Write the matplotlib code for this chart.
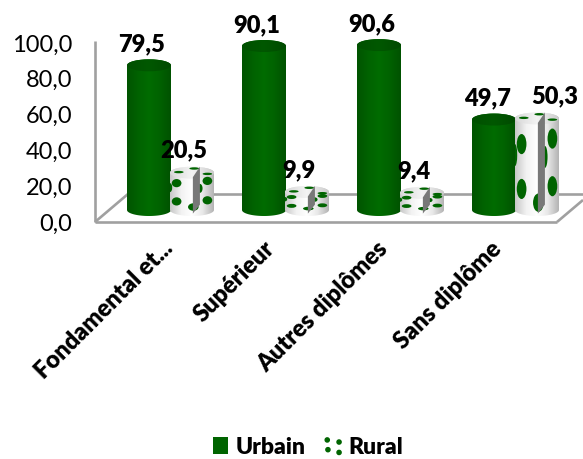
import matplotlib
matplotlib.use('Agg')
import matplotlib.pyplot as plt
import matplotlib.transforms as mtrans
import numpy as np
from matplotlib.colors import LinearSegmentedColormap
from matplotlib.lines import Line2D
from matplotlib.patches import Ellipse, Patch, Polygon
from matplotlib.path import Path

categories = ['Fondamental et...', 'Supérieur', 'Autres diplômes', 'Sans diplôme']
urbain = [79.5, 90.1, 90.6, 49.7]
rural = [20.5, 9.9, 9.4, 50.3]
value_labels_u = ['79,5', '90,1', '90,6', '49,7']
value_labels_r = ['20,5', '9,9', '9,4', '50,3']
yticks = [0, 20, 40, 60, 80, 100]
ytick_labels = ['0,0', '20,0', '40,0', '60,0', '80,0', '100,0']

W, H = 583, 459
PX_X = 115.0    # pixels for one category
PX_Y = 1.79     # pixels for one value unit
GREEN = '#006400'
GRID = '#a0a0a0'
HEAVY = 'heavy'

plt.rcParams['font.family'] = ['Lato', 'DejaVu Sans']

fig = plt.figure(figsize=(W / 100, H / 100), dpi=100)
ax = fig.add_axes([95 / W, 1 - 222 / H, (W - 95) / W, 179 / H])
ax.set_facecolor('none')
x_left = (95 - 170.5) / PX_X
x_right = (W - 170.5) / PX_X
x_front = (557 - 170.5) / PX_X
ax.set_xlim(x_left, x_right)
ax.set_ylim(0, 100)

bar_w = 44 / PX_X
off = 21.5 / PX_X
base = 12 / PX_Y
ell_h = 12 / PX_Y
scale = 1.82 / PX_Y

green_cmap = LinearSegmentedColormap.from_list('g', ['#005400', '#006200', '#006c00', '#006200', '#005200'])
white_cmap = LinearSegmentedColormap.from_list('w', ['#c8c8c8', '#f2f2f2', '#ffffff', '#e8e8e8', '#b4b4b4'])
top_green = LinearSegmentedColormap.from_list('gt', ['#005000', '#005800', '#004a00'])
top_white = LinearSegmentedColormap.from_list('wt', ['#d8d8d8', '#f4f4f4', '#cccccc'])

# dot texture, in fractions of the bar (u across, v from the top)
dots_u = [0.15, 0.85, 0.15, 0.85, 0.53, 0.00, 0.68]
dots_v = [0.28, 0.22, 0.77, 0.74, 0.92, 0.40, 0.42]
dots_w = [0.22, 0.22, 0.22, 0.22, 0.24, 0.10, 0.12]
dots_h = [0.22, 0.22, 0.22, 0.22, 0.20, 0.24, 0.24]


def outline(cx, y0, y1):
    t = np.linspace(0, np.pi, 40)
    xb = cx + bar_w / 2 * np.cos(t[::-1])
    yb = y0 - ell_h / 2 * np.sin(t[::-1])
    xt = cx + bar_w / 2 * np.cos(t)
    yt = y1 + ell_h / 2 * np.sin(t)
    return np.column_stack([np.r_[xb, xt], np.r_[yb, yt]])


def cylinder(cx, value, cmap, top_cmap, zorder, dotted=False):
    y0 = base
    y1 = base + value * scale
    sil = Polygon(outline(cx, y0, y1), closed=True, fc='none', ec='none', clip_on=False)
    ax.add_patch(sil)
    grad = np.linspace(0, 1, 64).reshape(1, -1)
    im = ax.imshow(grad, cmap=cmap, extent=[cx - bar_w / 2, cx + bar_w / 2, y0 - ell_h, y1 + ell_h],
                   aspect='auto', zorder=zorder, interpolation='bilinear')
    im.set_clip_box(fig.bbox)
    im.set_clip_path(sil)
    cap = Ellipse((cx, y1), bar_w, ell_h, fc='none', ec='none', clip_on=False)
    ax.add_patch(cap)
    im2 = ax.imshow(grad, cmap=top_cmap, extent=[cx - bar_w / 2, cx + bar_w / 2, y1 - ell_h, y1 + ell_h],
                    aspect='auto', zorder=zorder + 0.1, interpolation='bilinear')
    im2.set_clip_box(fig.bbox)
    im2.set_clip_path(cap)
    if dotted:
        h = y1 - y0
        for u, v, dw, dh in zip(dots_u, dots_v, dots_w, dots_h):
            e = Ellipse((cx - bar_w / 2 + u * bar_w, y1 - v * h), dw * bar_w, dh * h,
                        fc=GREEN, ec='none', zorder=zorder + 0.2)
            ax.add_patch(e)
            e.set_clip_path(sil)
        for u, v in [(0.2, 0.55), (0.55, 0.85), (0.85, 0.4)]:
            e = Ellipse((cx - bar_w / 2 + u * bar_w, y1 - ell_h / 2 + v * ell_h), 0.22 * bar_w, 0.2 * ell_h,
                        fc=GREEN, ec='none', zorder=zorder + 0.2)
            ax.add_patch(e)
            e.set_clip_path(cap)
        # grey notch seen on the textured bars
        xa = cx - bar_w / 2 + 0.52 * bar_w
        xb = cx - bar_w / 2 + 0.68 * bar_w
        notch = [(xa, y1 - 2.5), (xb, y1 + ell_h / 2), (xb, y0 + 3), (xa, y0 - 2)]
        ax.add_patch(Polygon(notch, closed=True, fc='#787878', ec='none', zorder=zorder + 0.3))


# walls and floor
wall = dict(color=GRID, lw=1.9, clip_on=False, zorder=1, solid_capstyle='butt')
back_y = 28 / PX_Y
ax.plot([x_left, x_left], [0, 101], **wall)
ax.plot([x_left, x_front], [0, 0], **wall)
ax.plot([x_left, x_left + 33 / PX_X], [0, back_y], **wall)
ax.plot([x_left + 33 / PX_X, x_right], [back_y, back_y], **wall)
ax.plot([x_front, x_right], [0, 22 / PX_Y], **wall)

# bars and value labels
for i in range(len(categories)):
    z = 3 + i
    cylinder(i - off, urbain[i], green_cmap, top_green, z)
    cylinder(i + off, rural[i], white_cmap, top_white, z + 0.5, dotted=True)
    du = -7
    dr = 18 if i == 3 else -8
    ax.annotate(value_labels_u[i], (i - off, base + urbain[i] * scale), xytext=(du, 21),
                textcoords='offset pixels', ha='center', va='center',
                fontsize=17, fontweight=HEAVY, color='black', zorder=20, annotation_clip=False)
    ax.annotate(value_labels_r[i], (i + off, base + rural[i] * scale), xytext=(dr, 22),
                textcoords='offset pixels', ha='center', va='center',
                fontsize=17, fontweight=HEAVY, color='black', zorder=20, annotation_clip=False)

ax.set_xlim(x_left, x_right)
ax.set_ylim(0, 100)
for s in ax.spines.values():
    s.set_visible(False)

ax.set_yticks(yticks)
ax.set_yticklabels(ytick_labels, fontsize=17, color='black')
ax.tick_params(axis='y', length=0, pad=16.5)
ax.set_xticks(range(len(categories)))
ax.set_xticklabels(categories, rotation=45, ha='right', rotation_mode='anchor',
                   fontsize=17, fontweight=HEAVY, color='black')
ax.tick_params(axis='x', length=0, pad=11)
label_shift = [-9, -22, -24, -25]
for lab, dx in zip(ax.get_xticklabels(), label_shift):
    lab.set_transform(lab.get_transform() + mtrans.ScaledTranslation(dx / 100, 0, fig.dpi_scale_trans))

# legend
r = Path.circle((0, 0), 0.15)
marker = Path.make_compound_path(*[r.transformed(mtrans.Affine2D().translate(a, b))
                                   for a, b in [(-0.45, 0.4), (0.4, 0.25), (-0.4, -0.3), (0.4, -0.5)]])
handles = [Patch(fc=GREEN, ec='none', label='Urbain'),
           Line2D([], [], ls='', marker=marker, color=GREEN, markersize=13, label='Rural')]
fig.legend(handles=handles, loc='center', bbox_to_anchor=(308 / W, 1 - 447 / H), ncol=2, frameon=False,
           prop={'size': 16.5, 'weight': HEAVY}, handlelength=0.64, handleheight=0.72, handletextpad=0.35,
           columnspacing=0.88, borderpad=0)

fig.savefig('out.png', dpi=100)
